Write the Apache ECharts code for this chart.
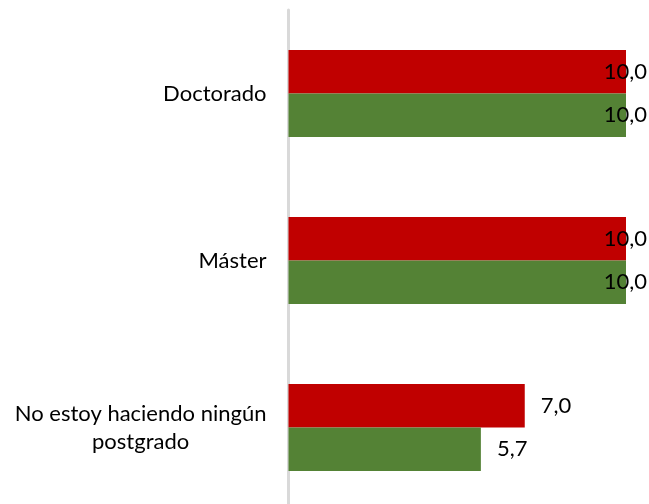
<!DOCTYPE html>
<html>
<head>
<meta charset="utf-8">
<script src="https://cdn.jsdelivr.net/npm/echarts@6/dist/echarts.min.js"></script>
<style>
html,body{margin:0;padding:0;background:#fff;overflow:hidden;width:649px;height:504px;}
#chart{width:649px;height:511px;}
</style>
</head>
<body>
<div id="chart"></div>
<script>
const categories = ['Doctorado', 'Máster', 'No estoy haciendo ningún\npostgrado'];
const seriesNames = ['Serie 1', 'Serie 2'];
const valuesRed = [10.0, 10.0, 7.0];
const valuesGreen = [10.0, 10.0, 5.7];
const xMax = 10;

const FONT = 'Lato';
const FS = 22;

function textWidth(t) {
  const c = document.createElement('canvas').getContext('2d');
  c.font = FS + 'px ' + FONT;
  return c.measureText(t).width;
}
let longest = 0;
categories.forEach(c => c.split('\n').forEach(l => { longest = Math.max(longest, textWidth(l)); }));

function fmt(v) { return v.toFixed(1).replace('.', ','); }

function mkData(vals) {
  return vals.map(v => {
    if (v >= xMax * 0.95) {
      return { value: v, label: { position: 'insideRight', distance: 0, offset: [21, 0] } };
    }
    return { value: v };
  });
}

const labelCommon = {
  show: true,
  position: 'right',
  distance: 16,
  color: '#000',
  fontFamily: FONT,
  fontSize: FS,
  formatter: p => fmt(p.value)
};

const chart = echarts.init(document.getElementById('chart'), null, { renderer: 'canvas' });
chart.setOption({
  animation: false,
  backgroundColor: '#fff',
  grid: { left: 288.5, width: 337.5, top: 10, bottom: 0, containLabel: false },
  xAxis: {
    type: 'value', min: 0, max: xMax, show: false,
    splitLine: { show: false }
  },
  yAxis: {
    type: 'category',
    data: categories,
    inverse: true,
    axisLine: { show: true, lineStyle: { color: '#d9d9d9', width: 3 } },
    axisTick: { show: false },
    splitLine: { show: false },
    axisLabel: {
      margin: 22,
      align: 'right',
      color: '#000',
      fontFamily: FONT,
      fontSize: FS,
      lineHeight: 28,
      formatter: v => {
        if (v.indexOf('\n') >= 0) {
          return v.split('\n').map(l => '{c|' + l + '}').join('\n');
        }
        return v;
      },
      rich: {
        c: { width: longest, align: 'center', fontFamily: FONT, fontSize: FS, lineHeight: 28, color: '#000' }
      }
    }
  },
  series: [
    {
      name: seriesNames[0], type: 'bar', data: mkData(valuesRed),
      barWidth: 43.5, barGap: '0%',
      itemStyle: { color: '#C00000' },
      label: labelCommon
    },
    {
      name: seriesNames[1], type: 'bar', data: mkData(valuesGreen),
      barWidth: 43.5, barGap: '0%',
      itemStyle: { color: '#548235' },
      label: labelCommon
    }
  ]
});
</script>
</body>
</html>
